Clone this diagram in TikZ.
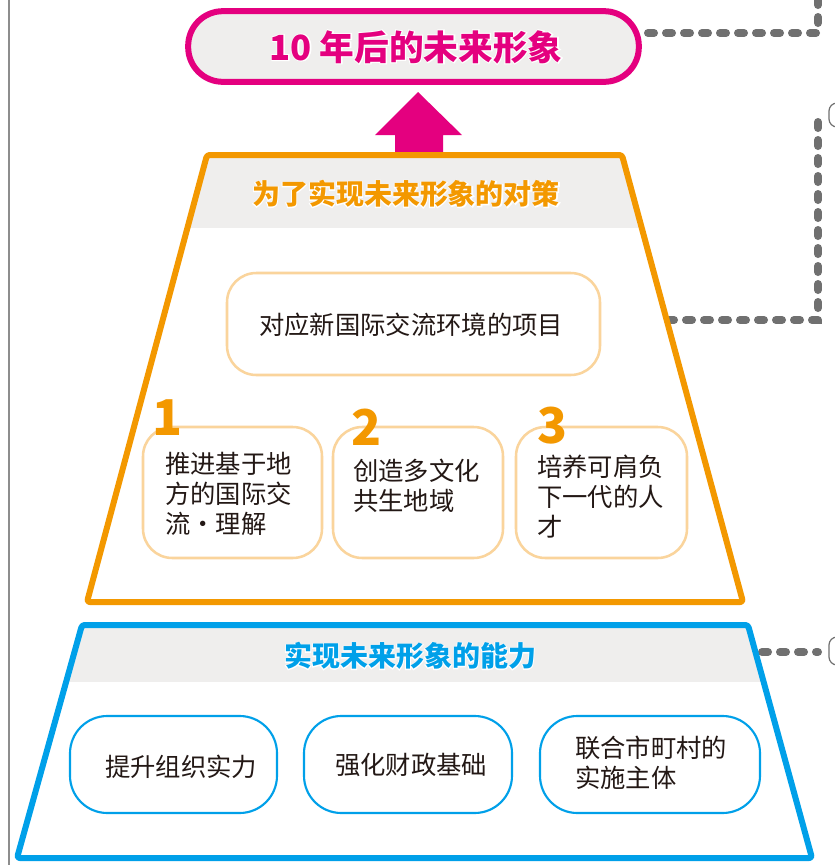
\documentclass[tikz,border=0pt]{standalone}
\usepackage{fontspec}
\setmainfont{Noto Sans CJK SC}
\newfontfamily\cjkout{Noto Sans CJK SC}[BoldFeatures={FakeBold=6}]
\definecolor{mag}{HTML}{E4007F}
\definecolor{org}{HTML}{F39800}
\definecolor{blu}{HTML}{00A0E9}
\definecolor{band}{HTML}{EFEEED}
\definecolor{lorg}{HTML}{FAD49C}
\definecolor{txt}{HTML}{231815}
\definecolor{dots}{HTML}{707070}
\newcommand\outl[2]{\rlap{\color{white}\cjkout\bfseries #2}{\color{#1}\bfseries #2}}
\begin{document}
\begin{tikzpicture}[x=0.75pt,y=-0.75pt,
  dotline/.style={draw=dots, line width=6pt, line cap=round, dash pattern=on 4.5pt off 9pt},
  obox/.style={draw=lorg, line width=1.9pt, rounded corners=22pt, fill=white, inner sep=0pt},
  bbox/.style={draw=blu, line width=1.6pt, rounded corners=28pt, fill=white, inner sep=0pt},
  btext/.style={text=txt, font=\fontsize{19}{22.5}\selectfont, inner sep=0pt, align=left},
  num/.style={text=org, font=\fontsize{37}{40}\selectfont\bfseries, inner sep=0pt},
  hdr/.style={font=\fontsize{21}{24}\selectfont, inner sep=0pt},
  stub/.style={draw=dots, line width=0.9pt, rounded corners=6pt, minimum width=30pt, inner sep=0pt}]
\useasboundingbox (0,0) rectangle (835,865);
\fill[white] (0,0) rectangle (835,865);
% left gray rule
\draw[dots!80, line width=1.5pt] (9,-2) -- (9,867);

% dotted connectors
\coordinate (d1s) at (648,33);
\coordinate (d1e) at (818,-12);
\draw[dotline] (d1s) -| (d1e);
\node[stub, minimum height=18pt] (r1) at (849,115) {};
\coordinate (d2s) at (668,320);
\coordinate (d2e) at (818,113);
\draw[dotline] (d2s) -| (d2e);
\node[stub, minimum height=21pt] (r2) at (849,651) {};
\coordinate (d3s) at (762,652);
\coordinate (d3e) at (818,652);
\draw[dotline] (d3s) -- (d3e);

% title pill
\node[draw=mag, line width=4.5pt, fill=band, rounded corners=26pt,
      minimum width=338pt, minimum height=53pt, inner sep=0pt] (title) at (413.5,46.5) {};
\node[font=\fontsize{26}{30}\selectfont, inner sep=0pt] (titletext) at (416,47) {\outl{mag}{10 年后的未来形象}};

% arrow
\fill[mag] (395,156) -- (395,135) -- (375,135) -- (418,92) -- (462,135) -- (443,135) -- (443,156) -- cycle;

% orange trapezoid
\fill[white] (207,155) -- (622,155) -- (743,602) -- (87,602) -- cycle;
\begin{scope}
  \clip (207,155) -- (622,155) -- (743,602) -- (87,602) -- cycle;
  \fill[band] (0,150) rectangle (835,228);
\end{scope}
\draw[org, line width=4.5pt, line join=round, rounded corners=2pt] (207,155) -- (622,155) -- (743,602) -- (87,602) -- cycle;
\node[hdr] (ohdr) at (406,194) {\outl{org}{为了实现未来形象的对策}};

\node[obox, minimum width=279.75pt, minimum height=76.5pt] (proj) at (413.5,324) {};
\node[btext] (projtext) at (411,325) {对应新国际交流环境的项目};

\node[obox, minimum width=134.25pt, minimum height=98.25pt] (b1) at (232.5,492.5) {};
\node[obox, minimum width=127.5pt, minimum height=98.25pt] (b2) at (418,492.5) {};
\node[obox, minimum width=128.25pt, minimum height=98.25pt] (b3) at (601.5,492.5) {};
\node[btext, anchor=west] (t1) at (165,494) {推进基于地\\方的国际交\\流・理解};
\node[btext, anchor=west] (t2) at (353,486) {创造多文化\\共生地域};
\node[btext, anchor=west] (t3) at (537,497) {培养可肩负\\下一代的人\\才};
\node[num] (n1) at (168,418) {1};
\node[num] (n2) at (367,427) {2};
\node[num] (n3) at (553,426) {3};

% blue trapezoid
\fill[white] (82,625) -- (748,625) -- (812,858) -- (17,858) -- cycle;
\begin{scope}
  \clip (82,625) -- (748,625) -- (812,858) -- (17,858) -- cycle;
  \fill[band] (0,620) rectangle (835,682);
\end{scope}
\draw[blu, line width=4.5pt, line join=round, rounded corners=2pt] (82,625) -- (748,625) -- (812,858) -- (17,858) -- cycle;
\node[hdr] (bhdr) at (410,656) {\outl{blu}{实现未来形象的能力}};

\node[bbox, minimum width=155.25pt, minimum height=72.75pt] (c1) at (173.5,764.5) {};
\node[bbox, minimum width=156pt, minimum height=72.75pt] (c2) at (408,764.5) {};
\node[bbox, minimum width=165pt, minimum height=72.75pt] (c3) at (650,764.5) {};
\node[btext] (u1) at (181,767) {提升组织实力};
\node[btext] (u2) at (411,765) {强化财政基础};
\node[btext, anchor=west] (u3) at (575,763) {联合市町村的\\实施主体};
\end{tikzpicture}
\end{document}
